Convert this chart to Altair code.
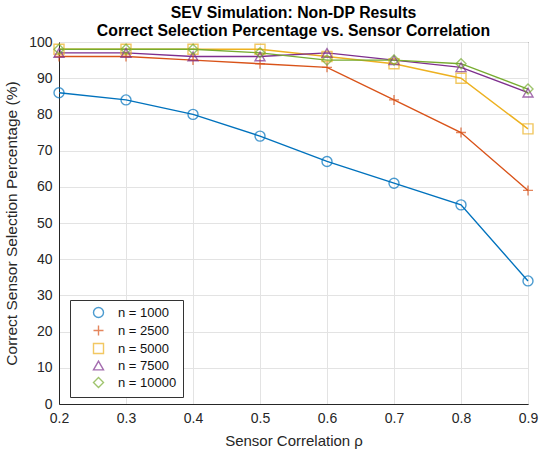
import altair as alt
import pandas as pd

rho = [0.2, 0.3, 0.4, 0.5, 0.6, 0.7, 0.8, 0.9]
series_names = ["n = 1000", "n = 2500", "n = 5000", "n = 7500", "n = 10000"]
n1000 = [86, 84, 80, 74, 67, 61, 55, 34]
n2500 = [96, 96, 95, 94, 93, 84, 75, 59]
n5000 = [98, 98, 98, 98, 96, 94, 90, 76]
n7500 = [97, 97, 96, 96, 97, 95, 93, 86]
n10000 = [98, 98, 98, 97, 95, 95, 94, 87]
all_vals = [n1000, n2500, n5000, n7500, n10000]

colors = ["#0072BD", "#D95319", "#EDB120", "#7E2F8E", "#77AC30"]
plus = "M-1,0L1,0M0,-1L0,1"
shapes = ["circle", plus, "square", "triangle-up", "diamond"]

rows = []
for name, vals in zip(series_names, all_vals):
    for r, v in zip(rho, vals):
        rows.append({"rho": r, "pct": v, "series": name})
df = pd.DataFrame(rows)

font = "Liberation Sans"
x = alt.X("rho:Q", scale=alt.Scale(domain=[0.2, 0.9], nice=False),
          axis=alt.Axis(values=rho, format=".1f", title="Sensor Correlation ρ",
                        grid=True, tickSize=0, labelPadding=7, titlePadding=8, labelFlush=False,
                        labelFont=font, titleFont=font, labelFontSize=14, titleFontSize=15,
                        titleFontWeight="normal", labelColor="#262626", titleColor="#262626"))
y = alt.Y("pct:Q", scale=alt.Scale(domain=[0, 100], nice=False),
          axis=alt.Axis(values=list(range(0, 101, 10)), title="Correct Sensor Selection Percentage (%)",
                        grid=True, tickSize=0, labelPadding=7, titlePadding=9, labelFlush=False,
                        labelFont=font, titleFont=font, labelFontSize=14, titleFontSize=15.5,
                        titleFontWeight="normal", labelColor="#262626", titleColor="#262626"))
legend = alt.Legend(title=None, orient="none", legendX=11, legendY=258,
                    fillColor="white", strokeColor="#333333", padding=6,
                    labelFont=font, labelFontSize=13, labelColor="#111111",
                    symbolSize=100, symbolStrokeWidth=1.4, rowPadding=1,
                    symbolFillColor="transparent", symbolOffset=16, labelOffset=13)
color = alt.Color("series:N", scale=alt.Scale(domain=series_names, range=colors), legend=legend)
shape = alt.Shape("series:N", scale=alt.Scale(domain=series_names, range=shapes), legend=legend)

lines = alt.Chart(df).mark_line(strokeWidth=1.4).encode(x=x, y=y, color=color, detail="series:N")
points = alt.Chart(df).mark_point(size=100, strokeWidth=1.4, filled=False).encode(
    x=x, y=y, color=color, shape=shape)

chart = alt.layer(lines, points).properties(
    width=469, height=362,
    title=alt.TitleParams(["SEV Simulation: Non-DP Results",
                           "Correct Selection Percentage vs. Sensor Correlation"],
                          font=font, fontSize=15.8, fontWeight="bold", color="#000000",
                          anchor="middle", offset=-5, lineHeight=18),
    autosize=alt.AutoSizeParams(type="none"),
    padding={"left": 59, "top": 42, "right": 11, "bottom": 46},
).configure_view(stroke="#262626", strokeWidth=1).configure_axis(
    gridColor="#e3e3e3", domainColor="#262626", domainWidth=1
)

chart.save("out.html", embed_options={"renderer": "svg", "actions": False})
